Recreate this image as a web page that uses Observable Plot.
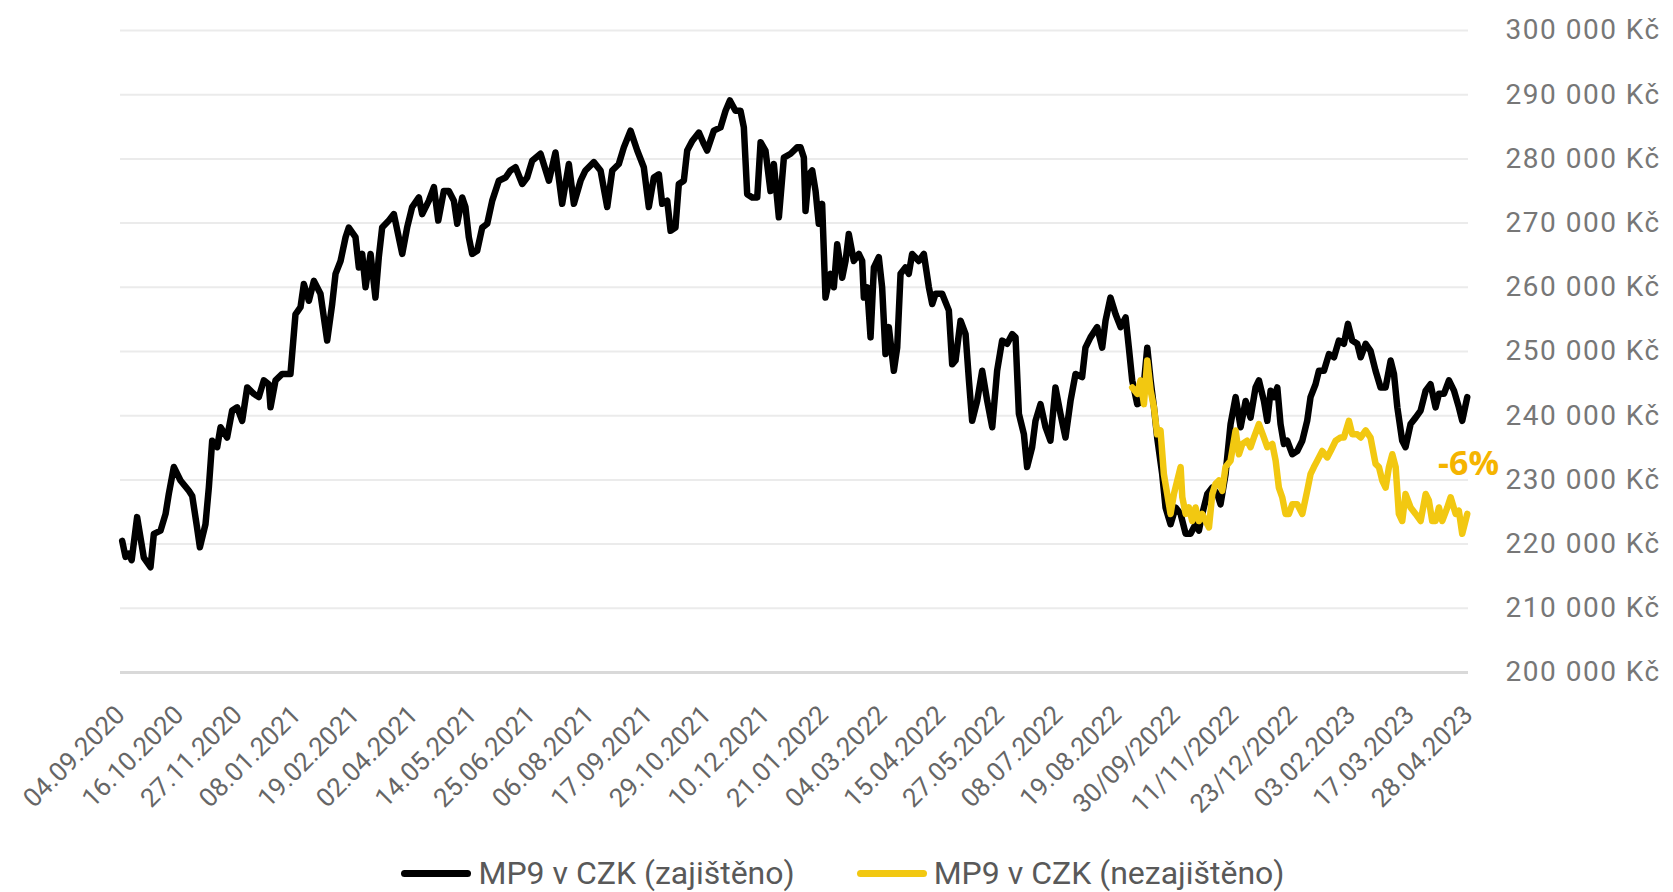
<!DOCTYPE html>
<html><head><meta charset="utf-8">
<script src="https://cdn.jsdelivr.net/npm/d3@7"></script>
<script src="https://cdn.jsdelivr.net/npm/@observablehq/plot@0.6"></script>
<style>
body{margin:0;background:#fff;}
#chart svg{display:block}
.legend{display:flex;justify-content:center;align-items:center;gap:62px;font-family:Roboto,sans-serif;font-size:32px;color:#595959;height:60px;margin-top:13px;padding-left:13px}
.item{display:flex;align-items:center}
.sw{display:inline-block;width:70px;height:7px;border-radius:4px;margin-right:7px}
</style></head><body>
<div id="chart"></div>
<div class="legend">
  <span class="item"><span class="sw" style="background:#000"></span><span id="lab0"></span></span>
  <span class="item"><span class="sw" style="background:#F2C811"></span><span id="lab1"></span></span>
</div>
<script>
// series names
const seriesNames = ["MP9 v CZK (zajištěno)", "MP9 v CZK (nezajištěno)"];
const startDate = "2020-09-04";
const endDate = "2023-04-28";

// x tick dates and their labels
const tickDates = ["2020-09-04","2020-10-16","2020-11-27","2021-01-08","2021-02-19","2021-04-02","2021-05-14","2021-06-25","2021-08-06","2021-09-17","2021-10-29","2021-12-10","2022-01-21","2022-03-04","2022-04-15","2022-05-27","2022-07-08","2022-08-19","2022-09-30","2022-11-11","2022-12-23","2023-02-03","2023-03-17","2023-04-28"];
const tickLabels = ["04.09.2020","16.10.2020","27.11.2020","08.01.2021","19.02.2021","02.04.2021","14.05.2021","25.06.2021","06.08.2021","17.09.2021","29.10.2021","10.12.2021","21.01.2022","04.03.2022","15.04.2022","27.05.2022","08.07.2022","19.08.2022","30/09/2022","11/11/2022","23/12/2022","03.02.2023","17.03.2023","28.04.2023"];
const yTicks = [200000,210000,220000,230000,240000,250000,260000,270000,280000,290000,300000];

// hedged series: days since start, value in CZK
const blackDays = [1.2,3.6,6,8,11.9,16.7,21.5,23.9,28.7,32.3,34.6,38.2,43,49,51.4,54.5,56.9,60.9,63.3,65.7,69.3,71.7,76.4,80,83.6,87.2,90.8,95.6,99.1,102.7,106.3,107.5,111.1,115.9,121.8,125.4,129,131.4,135,138.6,143.3,148.1,151.7,154.1,157.7,161.3,163.6,
168.4,170.8,173.2,175.6,179.2,182.7,185.1,187.5,192.3,195.9,201.9,205.4,209,213.8,216.2,221,224.6,227.7,231.7,235.3,238.9,241.3,244.9,247.2,249.6,252,255.6,259.2,262.8,266.4,271.1,275.9,279.5,283.1,287.9,291.4,295,301,307,311.7,316.5,321.3,324.9,
329.7,333.2,339.2,344,348.8,352.4,357.1,360.7,365.5,370.3,375,378.6,382.2,385.8,388.2,391.8,394.2,397.7,400.1,403.7,406.1,409.7,414.5,418.1,420.4,425.2,430,433.6,436.7,440.7,444.3,446.7,449.1,452.7,456.3,458.7,462.2,465.8,468.2,471.8,475.4,480.2,484.9,
487.3,489.7,490.9,493.3,495.7,498.1,500.4,502.8,505.2,508.8,511.2,513.6,517.2,519.6,521.9,525.5,529.1,531.5,532.7,535.1,537.5,539.9,543.4,545.8,548.2,550.6,554.2,556.6,559,562.5,564.9,567.3,572.1,575.7,579.3,581.7,584.1,588.8,593.6,596,598.4,602,605.6,608,610.3,613.9,617.5,621.1,624.7,628.2,631.8,635.4,639,641.4,643.8,647.4,649.7,653.3,655.7,
659.3,662.9,666.4,670,673.6,677.2,680.8,684.4,689.1,691.5,695.1,699.9,703.5,705.9,709.4,
713.1,716.7,720.3,722.6,725,728.6,732.2,735.8,738.2,740.6,742.9,746.5,748.9,752.5,756.1,759.7,763.3,766.8,770.4,772.8,775.2,778.8,782.4,786,788.3,791.9,795.5,799.1,802.7,806.3,809.8,813.4,815.8,819.4,821.8,824.2,826.6,829,831.3,833.7,836.1,839.7,843.3,846.9,850.4,852.8,856.4,858.8,862.4,866,869.6,873.1,876.7,879.6,882.7,886.3,888.7,892.3,895.8,899.4,903,906.6,910.2,912.6,915,918.5,920.9,924.5,928.1,931.7,935.3,938.8,942.4,944.8,948.4,952,955.6,959.1,961.5,965.1];
const blackValues = [220500,218000,218500,217500,224200,217900,216400,221600,222100,224700,227800,232000,229900,228300,227500,223100,219500,223100,228800,236100,235100,238200,236600,240800,241300,239200,244400,243400,242900,245500,244900,241300,245500,246500,246500,255800,256900,260500,257900,261000,259000,251700,257400,262100,264100,267800,269300,
267800,263100,265200,260000,265200,258400,264700,269300,270400,271400,265200,269300,272500,274000,271400,273500,275600,270400,275000,275000,273500,269900,274000,272500,267800,265200,265700,269300,269900,273500,276600,277100,278200,278700,276100,277100,279700,280800,276600,281000,273000,279200,273000,
276600,278200,279500,278200,272500,278200,279200,281800,284400,281300,278700,272500,277100,277600,273000,273500,268800,269300,276100,276600,281300,282800,284100,282300,281300,284400,284900,287500,289100,287500,287500,284900,274500,274000,274000,282600,281300,275000,279200,270900,280200,280800,281800,
281800,280200,271900,277600,278200,275000,269900,273000,258400,262100,260000,266700,261500,264100,268300,264100,265200,264100,258400,260000,252200,263100,264700,260000,249600,253800,247000,250600,262100,263100,262100,265200,264100,265200,260000,257400,259000,259000,256400,248000,248600,254800,252700,245500,239200,242300,247000,242300,238200,247000,251700,251200,252700,252200,240300,237100,232000,235100,239200,
241800,238200,236100,244400,240300,236600,242300,246500,246000,250600,252200,253800,250600,254800,258400,
255800,253800,255300,250600,245500,241800,242300,250600,245500,241300,236600,230900,225700,223100,225700,224700,221600,221600,223100,222100,224700,227800,228800,227800,226200,230900,238700,242900,238200,242300,239700,244400,245500,242300,239200,243900,242900,244400,238700,235600,236100,234000,234500,236100,239200,242900,244900,247000,247000,249600,249100,251700,251200,254300,251700,251200,249100,251200,250100,247000,244400,244400,248600,246500,241300,236100,235100,238700,239700,240800,243900,244900,241300,243400,243400,245500,243900,241300,239200,242900];

// unhedged series: days since start, value in CZK
const yellowDays = [725,728.6,731,733.4,735.8,738.2,740.6,742.9,745.3,747.7,750.1,752.5,754.9,757.3,759.7,760.9,763.3,765.6,768,770.4,772.8,775.2,777.6,780,782.4,784.7,787.1,789.5,791.9,795.5,799.1,801.5,803.9,807.4,809.8,812.2,815.8,819.4,821.8,825.4,827.8,830.1,832.5,834.9,837.3,839.7,843.3,846.9,850.4,852.8,855.2,857.6,861.2,864.8,867.2,870.8,874.3,876.7,880.3,882.7,886.3,888.7,892.3,895.8,899.4,901.8,904.2,906.6,909,911.4,913.8,916.1,918.5,920.9,924.5,928.1,931.7,935.3,937.6,940,942.4,944.8,947.2,950.8,953.2,956.8,959.1,961.5,965.1];
const yellowValues = [244400,243400,245500,241800,248600,243900,241300,237100,237700,230900,227800,224700,227800,229900,232000,227300,224700,225700,223600,225700,223600,224700,223600,222600,227800,229400,229900,228300,232000,233000,237700,234000,235600,236100,235100,236600,238700,236600,235100,235600,233000,228800,227300,224700,224700,226200,226200,224700,228300,230900,232000,233000,234500,233500,234500,236100,236600,236600,239200,237100,237100,236600,237700,236600,232500,232000,229900,228800,232000,234000,232000,224700,223600,227800,225700,224700,223600,227800,226800,223600,223600,225700,223600,225700,227300,224700,225200,221600,224700];

// annotation
const noteText = "-6%";
const noteDate = "2023-04-28";
const noteValue = 232400;

const t0 = new Date(startDate + "T00:00:00Z").getTime();
const toDate = d => new Date(t0 + d * 864e5);
const black = blackDays.map((d, i) => ({date: toDate(d), value: blackValues[i]}));
const yellow = yellowDays.map((d, i) => ({date: toDate(d), value: yellowValues[i]}));
const ticks = tickDates.map(s => new Date(s + "T00:00:00Z"));
const labelMap = new Map(ticks.map((d, i) => [d.getTime(), tickLabels[i]]));
const fmtCZK = v => d3.format(",")(v).replace(/,/g, " ") + " Kč";

document.getElementById("lab0").textContent = seriesNames[0];
document.getElementById("lab1").textContent = seriesNames[1];

const plot = Plot.plot({
  width: 1673,
  height: 830,
  marginLeft: 120,
  marginRight: 205,
  marginTop: 30,
  marginBottom: 158,
  style: {fontFamily: "Roboto, sans-serif", background: "#fff"},
  x: {type: "utc", domain: [new Date(startDate + "T00:00:00Z"), new Date(endDate + "T00:00:00Z")]},
  y: {domain: [200000, 300000]},
  marks: [
    Plot.ruleY(yTicks.filter(v => v > 200000), {stroke: "#ebebeb", strokeWidth: 2}),
    Plot.ruleY([200000], {stroke: "#d9d9d9", strokeWidth: 3}),
    Plot.axisY({ticks: yTicks, anchor: "right", tickSize: 0, tickPadding: 37, tickFormat: fmtCZK, label: null, fontSize: 28, fontFamily: "Roboto", fill: "#777"}),
    Plot.axisX({ticks: ticks, tickFormat: d => labelMap.get(d.getTime()), tickRotate: -45, tickSize: 0, tickPadding: 38, label: null, fontSize: 26, fill: "#666"}),
    Plot.line(black, {x: "date", y: "value", stroke: "#000", strokeWidth: 6.5, strokeLinejoin: "round", strokeLinecap: "round"}),
    Plot.line(yellow, {x: "date", y: "value", stroke: "#F2C811", strokeWidth: 6.5, strokeLinejoin: "round", strokeLinecap: "round"}),
    Plot.text([noteText], {x: () => new Date(noteDate + "T00:00:00Z"), y: () => noteValue, text: d => d, fill: "#F5B400", fontWeight: "bold", fontSize: 34, fontFamily: "Open Sans"})
  ]
});
document.getElementById("chart").appendChild(plot);
const yl = plot.querySelector('[aria-label="y-axis tick label"]');
if (yl) yl.style.letterSpacing = "1.5px";
</script>
</body></html>
